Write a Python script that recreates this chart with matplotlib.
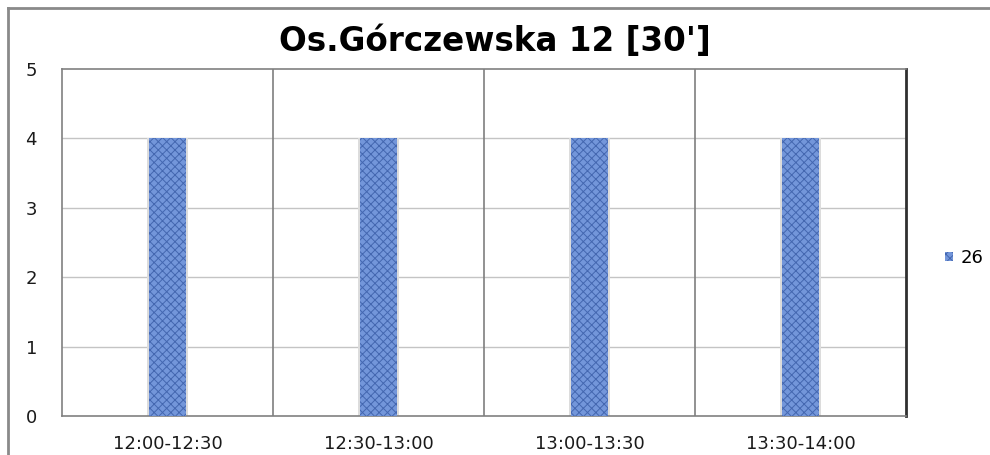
import matplotlib
matplotlib.use("Agg")
import matplotlib.pyplot as plt
from matplotlib.lines import Line2D

categories = ["12:00-12:30", "12:30-13:00", "13:00-13:30", "13:30-14:00"]
values = [4, 4, 4, 4]
series_name = "26"
title = "Os.Górczewska 12 [30']"
y_ticks = [0, 1, 2, 3, 4, 5]

plt.rcParams['font.family'] = ['DejaVu Sans']
plt.rcParams['hatch.linewidth'] = 0.7

fig = plt.figure(figsize=(9.9, 4.55), dpi=100)
fig.patch.set_facecolor('white')
ax = fig.add_axes([62/990, 39/455, 844/990, 347/455])

x = list(range(len(categories)))
ax.bar(x, values, width=0.195, color='#dcdcdc', linewidth=0, zorder=2)
ax.bar(x, values, width=0.175, facecolor='#7396da', edgecolor='#4467b0',
       hatch='xxxx', linewidth=0, zorder=3, label=series_name)

ax.set_xlim(-0.5, len(categories) - 0.5)
ax.set_ylim(0, 5)
ax.set_yticks(y_ticks)
ax.set_yticklabels([str(t) for t in y_ticks])
ax.set_xticks(x)
ax.set_xticklabels(categories)
ax.tick_params(axis='both', length=0, labelsize=13, colors='#1a1a1a')
ax.tick_params(axis='y', pad=18)
ax.tick_params(axis='x', pad=14)

for t in y_ticks[1:-1]:
    ax.axhline(t, color='#c4c4c4', linewidth=1, zorder=1)
for b in [0.5, 1.5, 2.5]:
    ax.axvline(b, color='#7f7f7f', linewidth=1.2, zorder=1)

for s in ['left', 'top', 'bottom']:
    ax.spines[s].set_color('#808080')
    ax.spines[s].set_linewidth(1.2)
ax.spines['right'].set_color('#303030')
ax.spines['right'].set_linewidth(2)

fig.text(495/990, 1 - 41/455, title, ha='center', va='center',
         fontsize=23.5, fontweight='bold')

leg = ax.legend(loc='center left', bbox_to_anchor=(929/990, 1 - 258/455),
                bbox_transform=fig.transFigure, frameon=False, fontsize=13,
                handlelength=0.45, handleheight=0.45, handletextpad=0.4)

# outer chart border
fig.add_artist(Line2D([8/990, 1.0], [1 - 8/455, 1 - 8/455], transform=fig.transFigure,
                      color='#8a8a8a', linewidth=2))
fig.add_artist(Line2D([8/990, 8/990], [0, 1 - 8/455], transform=fig.transFigure,
                      color='#8a8a8a', linewidth=2))

fig.savefig("out.png", dpi=100)
